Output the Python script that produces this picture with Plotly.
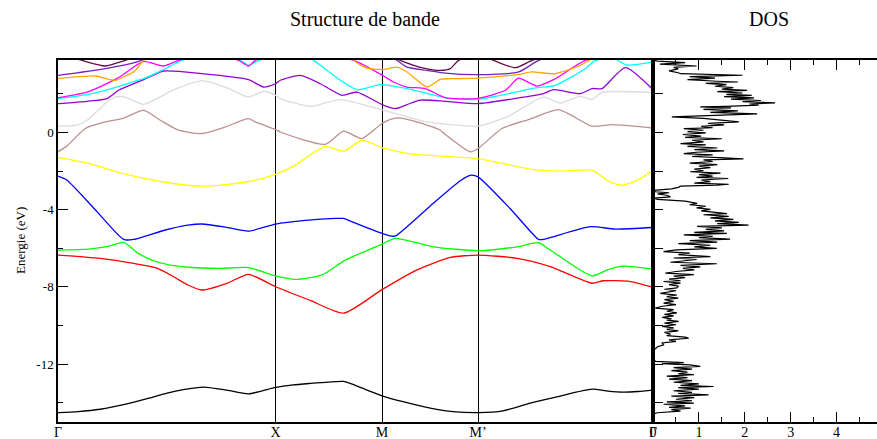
import plotly.graph_objects as go

# ---------------- data ----------------
# k-path coordinates (arbitrary path units) of the high-symmetry points
kpoint_pos = [0.0, 2.176, 3.24, 4.20, 5.95]
kpoint_lbl = ["Γ", "X", "M", "M’", "Γ"]

band_colors = ["#000000", "#ff0000", "#00ff00", "#0000ff", "#ffff00", "#bc8f8f",
               "#dcdcdc", "#9400d3", "#00ffff", "#ff00ff", "#ffa500", "#7221bc", "#670748"]

b1_k = [0, 0.2, 0.423, 0.69, 0.9, 1.09, 1.25, 1.456, 1.673, 1.906, 2.176, 2.35, 2.523, 2.7, 2.856,
        3.043, 3.24, 3.45, 3.723, 3.95, 4.20, 4.45, 4.723, 5.0, 5.34, 5.5, 5.653, 5.8, 5.95]
b1_e = [-14.51, -14.46, -14.34, -14.06, -13.78, -13.5, -13.32, -13.19, -13.33, -13.54, -13.21, -13.08,
        -13.0, -12.93, -12.9, -13.25, -13.64, -13.95, -14.28, -14.46, -14.51, -14.42, -14.02, -13.68,
        -13.30, -13.4, -13.45, -13.42, -13.35]

b2_k = [0, 0.423, 0.756, 0.99, 1.156, 1.3, 1.44, 1.69, 1.906, 2.176, 2.523, 2.856, 3.24, 3.59,
        3.923, 4.2, 4.59, 4.923, 5.34, 5.453, 5.723, 5.95]
b2_e = [-6.35, -6.52, -6.78, -7.03, -7.47, -7.9, -8.16, -7.81, -7.35, -7.99, -8.7, -9.36, -8.14, -7.12,
        -6.47, -6.35, -6.52, -6.95, -7.81, -7.68, -7.72, -8.02]

b3_k = [0, 0.306, 0.5, 0.656, 0.8, 0.94, 1.1, 1.306, 1.6, 1.906, 2.173, 2.373, 2.64, 2.873, 3.24,
        3.373, 3.756, 4.2, 4.59, 4.806, 4.923, 5.34, 5.5, 5.656, 5.95]
b3_e = [-6.09, -6.04, -5.9, -5.69, -6.25, -6.61, -6.85, -6.98, -7.04, -7.0, -7.43, -7.61, -7.38, -6.61,
        -5.78, -5.48, -5.92, -6.12, -5.92, -5.71, -6.09, -7.43, -7.1, -6.92, -7.07]

b4_k = [0, 0.09, 0.373, 0.656, 0.756, 1.073, 1.3, 1.44, 1.673, 1.906, 2.176, 2.473, 2.773, 2.856,
        2.923, 3.24, 3.323, 3.373, 3.723, 4.023, 4.13, 4.2, 4.523, 4.806, 4.853, 5.323, 5.573, 5.95]
b4_e = [-2.26, -2.47, -4.0, -5.54, -5.54, -5.05, -4.8, -4.74, -4.9, -5.11, -4.74, -4.55, -4.45, -4.45,
        -4.59, -5.23, -5.36, -5.36, -3.8, -2.5, -2.21, -2.30, -3.95, -5.54, -5.54, -4.88, -5.0, -4.92]

b5_k = [0, 0.306, 0.64, 1.04, 1.44, 1.906, 2.176, 2.373, 2.673, 2.856, 3.04, 3.24, 3.523, 3.923,
        4.2, 4.756, 5.023, 5.34, 5.5, 5.64, 5.8, 5.95]
b5_e = [-1.29, -1.6, -2.12, -2.55, -2.78, -2.55, -2.17, -1.69, -0.72, -0.97, -0.40, -0.78, -1.1,
        -1.25, -1.35, -1.92, -2.0, -1.95, -2.5, -2.73, -2.45, -1.95]

b6_k = [0, 0.09, 0.273, 0.473, 0.64, 0.856, 1.023, 1.206, 1.44, 1.673, 1.906, 1.973, 2.176, 2.223,
        2.673, 2.856, 3.04, 3.24, 3.39, 3.623, 3.823, 3.873, 4.123, 4.2, 4.44, 4.723, 5.006, 5.34,
        5.54, 5.94]
b6_e = [-1.0, -0.69, 0.21, 0.55, 0.72, 1.15, 0.64, 0.12, -0.05, 0.29, 0.72, 0.55, 0.16, 0.03,
        -0.61, 0.07, -0.31, 0.47, 0.76, 0.5, 0.12, -0.1, -1.0, -0.83, 0.21, 0.7, 1.19, 0.33,
        0.41, 0.24]

b7_k = [0, 0.19, 0.29, 0.49, 0.573, 0.673, 0.856, 1.15, 1.44, 1.673, 1.906, 2.056, 2.176, 2.223,
        2.523, 2.823, 3.256, 3.69, 4.123, 4.2, 4.49, 4.856, 5.023, 5.223, 5.34, 5.44, 5.95]
b7_e = [0.33, 0.38, 0.64, 1.58, 1.84, 1.84, 1.46, 2.2, 2.69, 2.35, 1.84, 2.14, 1.93, 1.76,
        1.36, 1.71, 1.15, 0.55, 0.33, 0.33, 0.81, 1.84, 1.53, 1.88, 1.72, 2.08, 2.07]

b8_k = [0, 0.29, 0.49, 0.606, 0.856, 1.056, 1.44, 1.906, 2.056, 2.176, 2.223, 2.423, 2.623, 2.84,
        2.99, 3.24, 3.373, 3.49, 3.623, 3.873, 4.2, 4.623, 4.856, 4.956, 5.223, 5.34, 5.44, 5.673, 5.95]
b8_e = [1.50, 1.62, 1.76, 2.19, 2.74, 3.19, 3.05, 2.74, 2.36, 2.53, 2.71, 2.96, 2.53, 1.93,
        2.1, 1.45, 1.24, 1.45, 1.68, 1.62, 1.5, 1.81, 2.02, 2.22, 2.02, 2.28, 2.28, 3.36, 2.22]

b9_k = [0, 0.29, 0.473, 0.64, 0.856, 1.04, 1.24, 1.5, 1.823, 1.906, 2.006, 2.3, 2.556, 2.69, 2.823,
        2.99, 3.223, 3.49, 3.923, 4.2, 4.54, 4.773, 4.973, 5.273, 5.373, 5.55, 5.69, 5.95]
b9_e = [1.76, 1.97, 2.19, 2.45, 2.79, 3.22, 3.74, 4.1, 3.74, 3.48, 3.74, 4.2, 3.74, 3.22, 2.71,
        2.22, 2.48, 2.28, 1.76, 1.72, 2.05, 2.31, 2.45, 3.31, 3.74, 3.85, 3.5, 3.66]

b10_k = [0, 0.29, 0.573, 0.64, 0.856, 1.056, 1.206, 1.5, 1.806, 1.906, 1.973, 2.3, 2.956, 3.256,
         3.356, 3.49, 3.673, 3.873, 4.19, 4.473, 4.606, 4.79, 4.973, 5.273, 5.6, 5.95]
b10_e = [1.81, 2.10, 2.76, 2.96, 3.69, 3.45, 3.74, 4.2, 3.74, 3.45, 3.74, 4.3, 3.74, 2.93,
         2.62, 2.36, 2.28, 1.81, 1.76, 2.19, 2.82, 2.41, 2.79, 3.74, 4.0, 3.8]

b11_k = [0, 0.373, 0.573, 0.773, 0.856, 1.2, 2.9, 2.956, 3.09, 3.256, 3.39, 3.49, 3.69, 3.823,
         3.923, 4.2, 4.606, 4.74, 4.973, 5.223, 5.33, 5.6, 5.95]
b11_e = [2.79, 2.93, 2.71, 3.22, 3.74, 4.3, 4.3, 3.74, 3.34, 3.27, 3.39, 3.14, 2.36, 2.76,
         2.79, 2.82, 3.02, 3.14, 3.05, 3.48, 3.8, 4.3, 4.3]

b12_k = [0, 0.473, 0.806, 1.1, 3.2, 3.39, 3.49, 3.69, 3.873, 4.2, 4.606, 4.806, 5.2, 5.95]
b12_e = [2.96, 3.31, 3.69, 4.3, 4.3, 3.74, 3.39, 3.22, 3.08, 3.0, 3.14, 3.74, 4.3, 4.3]

b13_k = [0, 0.24, 0.473, 0.673, 1.0, 3.2, 3.423, 3.656, 3.823, 3.923, 4.006, 4.2, 4.356, 4.573,
         4.74, 5.1, 5.95]
b13_e = [4.1, 3.74, 3.45, 3.74, 4.3, 4.3, 3.74, 3.34, 3.22, 3.31, 3.74, 4.05, 3.74, 3.36,
         3.74, 4.3, 4.4]

bands_k = [b1_k, b2_k, b3_k, b4_k, b5_k, b6_k, b7_k, b8_k, b9_k, b10_k, b11_k, b12_k, b13_k]
bands_e = [b1_e, b2_e, b3_e, b4_e, b5_e, b6_e, b7_e, b8_e, b9_e, b10_e, b11_e, b12_e, b13_e]

# density of states (energy in eV, DOS in arbitrary units)
dos_energy = [3.75, 3.70, 3.62, 3.55, 3.45, 3.38, 3.30, 3.20, 3.10, 3.05, 2.97, 2.90, 2.82, 2.74,
              2.66, 2.62, 2.55, 2.48, 2.40, 2.33, 2.25, 2.19, 2.12, 2.05, 1.98, 1.93, 1.86, 1.80,
              1.73, 1.66, 1.60, 1.54, 1.48, 1.42, 1.36, 1.33, 1.28, 1.20, 1.12, 1.05, 0.97, 0.90,
              0.81, 0.74, 0.66, 0.55, 0.48, 0.40, 0.32, 0.25, 0.20, 0.12, 0.05, -0.02, -0.10,
              -0.18, -0.25, -0.32, -0.40, -0.48, -0.57, -0.64, -0.72, -0.80, -0.88, -0.95, -1.02,
              -1.09, -1.16, -1.24, -1.30, -1.36, -1.42, -1.50, -1.58, -1.66, -1.74, -1.82, -1.90,
              -1.98, -2.03, -2.10, -2.18, -2.26, -2.32, -2.38, -2.46, -2.54, -2.62, -2.68, -2.72,
              -2.78, -2.84, -2.92, -3.00, -3.07, -3.12, -3.18, -3.25, -3.33, -3.40, -3.46, -3.55,
              -3.62, -3.67, -3.74, -3.82, -3.90, -3.98, -4.06, -4.14, -4.20, -4.26, -4.34, -4.42,
              -4.50, -4.58, -4.65, -4.72, -4.80, -4.86, -4.94, -5.02, -5.10, -5.17, -5.23, -5.30,
              -5.38, -5.45, -5.52, -5.60, -5.68, -5.76, -5.84, -5.92, -6.00, -6.08, -6.17, -6.25,
              -6.33, -6.43, -6.50, -6.58, -6.66, -6.72, -6.80, -6.88, -6.96, -7.04, -7.12, -7.20,
              -7.29, -7.36, -7.44, -7.52, -7.60, -7.68, -7.72, -7.80, -7.88, -7.96, -8.05, -8.12,
              -8.20, -8.28, -8.33, -8.42, -8.50, -8.58, -8.66, -8.75, -8.84, -8.92, -9.00, -9.10,
              -9.18, -9.26, -9.34, -9.42, -9.50, -9.58, -9.66, -9.72, -9.79, -9.88, -9.96, -10.04,
              -10.12, -10.20, -10.28, -10.36, -10.45, -10.52, -10.60, -10.66, -10.74, -10.82,
              -10.90, -11.00, -11.10, -11.20, -11.28, -11.40, -11.55, -11.70, -11.86, -11.92,
              -11.98, -12.04, -12.12, -12.18, -12.26, -12.34, -12.42, -12.50, -12.55, -12.62,
              -12.70, -12.78, -12.86, -12.94, -13.02, -13.10, -13.16, -13.22, -13.30, -13.38,
              -13.46, -13.52, -13.59, -13.66, -13.74, -13.82, -13.90, -13.96, -14.02, -14.08,
              -14.16, -14.24, -14.28, -14.36, -14.44, -14.52, -14.58]
dos_value = [0.0, 0.10, 0.70, 0.15, 0.95, 0.45, 0.55, 0.35, 0.55, 0.60, 1.95, 0.80, 1.35, 0.75,
             1.40, 1.85, 1.15, 1.60, 1.35, 1.75, 1.50, 2.05, 1.40, 1.95, 1.60, 2.15, 1.55, 2.20,
             1.70, 2.35, 1.95, 2.66, 2.10, 2.30, 1.60, 1.03, 1.70, 1.10, 1.85, 1.25, 2.27, 1.35,
             0.41, 1.10, 1.40, 1.87, 1.20, 1.55, 1.05, 1.30, 0.67, 1.10, 0.75, 1.15, 0.65,
             1.05, 0.70, 1.50, 0.85, 1.10, 0.60, 1.15, 0.75, 1.40, 0.90, 1.55, 0.95,
             0.67, 1.30, 0.85, 1.45, 1.97, 1.10, 1.30, 0.80, 1.40, 1.00, 1.25, 0.90,
             1.10, 0.81, 1.47, 1.00, 1.30, 0.95, 1.64, 1.05, 1.25, 0.90, 1.65, 1.39,
             0.60, 0.55, 0.40, 0.02, 0.05, 0.35, 0.10, 0.30, 0.38, 0.02, 0.10, 0.70,
             0.90, 0.96, 0.80, 1.15, 0.95, 1.25, 1.05, 1.35, 1.61, 1.10, 1.65, 1.25,
             1.75, 1.35, 1.87, 1.40, 2.08, 0.96, 1.50, 1.15, 1.55, 0.90, 1.61, 0.67,
             1.30, 1.00, 1.68, 0.80, 1.40, 0.55, 1.25, 0.90, 1.39, 0.50, 0.23, 0.80,
             0.55, 1.25, 0.45, 0.95, 0.55, 0.38, 1.39, 0.60, 1.03, 0.65, 0.90, 0.50,
             0.27, 0.89, 0.45, 0.70, 0.35, 0.60, 0.23, 0.60, 0.35, 0.55, 0.52, 0.25,
             0.50, 0.30, 0.16, 0.52, 0.30, 0.55, 0.25, 0.45, 0.23, 0.50, 0.20, 0.05,
             0.45, 0.30, 0.52, 0.25, 0.45, 0.20, 0.40, 0.30, 0.56, 0.25, 0.50, 0.20,
             0.45, 0.30, 0.55, 0.25, 0.38, 0.30, 0.70, 0.78, 0.35, 0.50,
             0.20, 0.23, 0.10, 0.05, 0.00, 0.01, 0.00, 0.01, 0.05, 0.67,
             0.20, 0.80, 1.03, 0.45, 0.85, 0.40, 0.75, 0.55, 0.89, 0.30,
             0.75, 0.35, 0.85, 0.45, 1.00, 0.60, 1.32, 0.55, 1.00, 0.45,
             0.85, 0.55, 1.21, 0.40, 0.90, 0.50, 0.85, 0.30, 0.89, 0.23,
             0.70, 0.35, 0.82, 0.40, 0.60, 0.09, 0.02]

dos_ticks = [0, 1, 2, 3, 4]
energy_ticks = [0, -4, -8, -12]

# ---------------- figure ----------------
FONT = "Liberation Serif"
fig = go.Figure()

for k, e, c in zip(bands_k, bands_e, band_colors):
    fig.add_trace(go.Scatter(x=k, y=e, mode="lines",
                             line=dict(color=c, width=1.3, shape="spline", smoothing=0.6),
                             xaxis="x", yaxis="y", showlegend=False, hoverinfo="skip"))

fig.add_trace(go.Scatter(x=dos_value, y=dos_energy, mode="lines",
                         line=dict(color="black", width=1.2),
                         xaxis="x2", yaxis="y2", showlegend=False, hoverinfo="skip"))

W, H = 877, 439
ml, mr, mt, mb = 58, 0, 60, 17
pw = W - ml - mr
ph = H - mt - mb
split = 595 / pw
yr = [-15, 3.76]

def px_x(px):
    return (px - ml) / pw

def px_y(py):
    return (H - mb - py) / ph

fig.update_layout(
    width=W, height=H,
    margin=dict(l=ml, r=mr, t=mt, b=mb, pad=0),
    paper_bgcolor="white", plot_bgcolor="white",
    font=dict(family=FONT, color="black", size=14),
    showlegend=False,
    xaxis=dict(domain=[0, split], range=[kpoint_pos[0], kpoint_pos[-1]],
               tickmode="array", tickvals=kpoint_pos, ticktext=kpoint_lbl,
               ticks="", showgrid=True, gridcolor="black", gridwidth=1,
               showline=True, linecolor="black", linewidth=1.5, mirror=True,
               zeroline=False, tickfont=dict(size=14, family=FONT), automargin=False,
               ticklabelstandoff=-4),
    yaxis=dict(domain=[0, 1], range=yr, tickmode="array", tickvals=energy_ticks,
               ticktext=[str(v) for v in energy_ticks], ticks="inside", ticklen=10,
               tickcolor="black", tickwidth=1,
               minor=dict(dtick=2, tick0=0, ticks="inside", ticklen=5, tickcolor="black"),
               showgrid=False, zeroline=False, showline=True, linecolor="black",
               linewidth=1.5, mirror=True, tickfont=dict(size=13, family=FONT),
               automargin=False),
    xaxis2=dict(domain=[split, 1], range=[0, 224 / 45.9], anchor="y2",
                tickmode="array", tickvals=dos_ticks, ticktext=[str(v) for v in dos_ticks],
                ticks="inside", ticklen=10, tickcolor="black",
                minor=dict(dtick=0.5, tick0=0, ticks="inside", ticklen=5, tickcolor="black"),
                showgrid=False, zeroline=False, showline=True, linecolor="black",
                linewidth=1.5, mirror="ticks", tickfont=dict(size=14, family=FONT),
                automargin=False, ticklabelstandoff=-4),
    yaxis2=dict(domain=[0, 1], range=yr, anchor="x2", matches="y",
                tickmode="linear", tick0=0, dtick=2, ticks="inside", ticklen=10,
                tickcolor="black", showticklabels=False, showgrid=False, zeroline=False,
                showline=True, linecolor="black", linewidth=1.5, automargin=False),
    annotations=[
        dict(text="Structure de bande", xref="paper", yref="paper",
             x=px_x(365), y=px_y(19), showarrow=False,
             font=dict(size=20, family=FONT), xanchor="center", yanchor="middle"),
        dict(text="DOS", xref="paper", yref="paper",
             x=px_x(769), y=px_y(19), showarrow=False,
             font=dict(size=20, family=FONT), xanchor="center", yanchor="middle"),
        dict(text="Energie (eV)", xref="paper", yref="paper",
             x=px_x(20), y=px_y(241), showarrow=False, textangle=-90,
             font=dict(size=13, family=FONT), xanchor="center", yanchor="middle"),
    ],
)

fig.write_html("out.html")
